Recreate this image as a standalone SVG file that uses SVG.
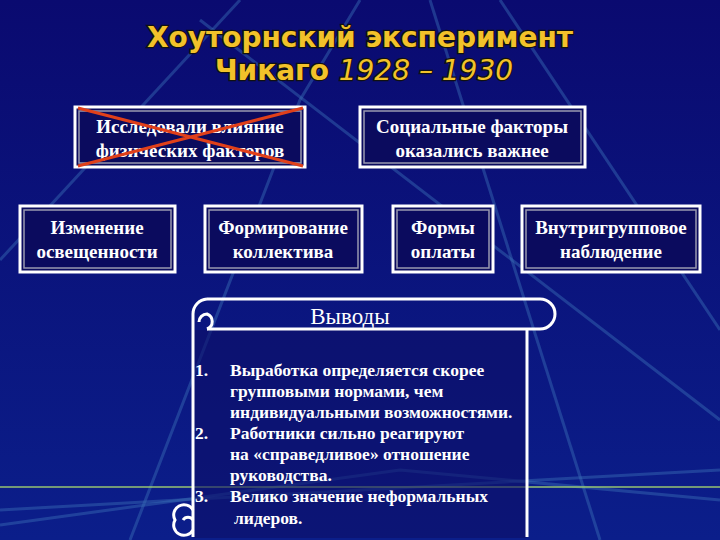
<svg xmlns="http://www.w3.org/2000/svg" width="720" height="540" viewBox="0 0 720 540">
<defs>
<style>
.box{fill:#0b0b5e;stroke:#ffffff;stroke-width:3}
.inner{fill:none;stroke:#9a9ab0;stroke-width:1.5}
.t{font-family:"Liberation Serif",serif;font-weight:bold;font-size:19px;fill:#ffffff;text-anchor:middle}
.l{font-family:"Liberation Serif",serif;font-weight:bold;font-size:17.5px;fill:#ffffff}
.ttl{font-family:"DejaVu Sans",sans-serif;font-weight:bold;font-size:28px;fill:#f2c22a;text-anchor:middle;stroke:#111;stroke-width:2.5;paint-order:stroke}
.bg{stroke:#3a6fb5;stroke-width:3;opacity:0.45;fill:none}
</style>
<linearGradient id="g" x1="0" y1="0" x2="0" y2="1">
<stop offset="0" stop-color="#0a0a70"/><stop offset="1" stop-color="#0b1e8a"/>
</linearGradient>
</defs>
<rect width="720" height="540" fill="url(#g)"/>
<g id="bglines">
<path class="bg" d="M0 260 L240 0"/>
<path class="bg" d="M130 540 L300 100 L360 0"/>
<path class="bg" d="M200 20 L720 420"/>
<path class="bg" d="M500 0 L720 330"/>
<path class="bg" d="M430 0 L600 540"/>
<path class="bg" d="M0 510 L720 470" stroke-width="1.5"/>
<path class="bg" d="M0 525 L400 470 L720 500" stroke-width="1.5"/>
<path d="M0 487 L720 487" stroke="#9fcf70" stroke-width="2" opacity="0.7"/>
</g>
<g id="title">
<text class="ttl" x="360" y="47">Хоуторнский эксперимент</text>
<text class="ttl" x="364" y="80">Чикаго <tspan font-style="italic" font-weight="normal">1928 – 1930</tspan></text>
</g>
<g id="n1">
<rect class="box" x="75" y="107" width="230" height="60"/><rect class="inner" x="79" y="111" width="222" height="52"/>
<text class="t" x="190" y="133">Исследовали влияние</text><text class="t" x="190" y="157">физических факторов</text>
<path d="M78 108 L303 166 M78 166 L303 108" stroke="#e0401a" stroke-width="3"/>
</g>
<g id="n2">
<rect class="box" x="360" y="107" width="225" height="60"/><rect class="inner" x="364" y="111" width="217" height="52"/>
<text class="t" x="472" y="133">Социальные факторы</text><text class="t" x="472" y="157">оказались важнее</text>
</g>
<g id="n3">
<rect class="box" x="20" y="206" width="155" height="66"/><rect class="inner" x="24" y="210" width="147" height="58"/>
<text class="t" x="97" y="234">Изменение</text><text class="t" x="97" y="258">освещенности</text>
</g>
<g id="n4">
<rect class="box" x="205" y="206" width="157" height="66"/><rect class="inner" x="209" y="210" width="149" height="58"/>
<text class="t" x="283" y="234">Формирование</text><text class="t" x="283" y="258">коллектива</text>
</g>
<g id="n5">
<rect class="box" x="393" y="206" width="100" height="66"/><rect class="inner" x="397" y="210" width="92" height="58"/>
<text class="t" x="443" y="234">Формы</text><text class="t" x="443" y="258">оплаты</text>
</g>
<g id="n6">
<rect class="box" x="522" y="206" width="178" height="66"/><rect class="inner" x="526" y="210" width="170" height="58"/>
<text class="t" x="611" y="234">Внутригрупповое</text><text class="t" x="611" y="258">наблюдение</text>
</g>
<g id="connectors"></g>
<g id="scroll" fill="none" stroke="#ffffff" stroke-width="3">
<rect x="194" y="330" width="333" height="208" fill="#0d0f68" stroke="none" opacity="0.6"/>
<path d="M207 299 L540 299 A15 15 0 0 1 540 329 L207 329"/>
<path d="M207 299 A15 15 0 0 0 193 314 L193 537"/>
<path d="M207 329 A8 8 0 0 0 207 314 A8 8 0 0 0 199 322"/>
<path d="M527 329 L527 537"/>
<path d="M193 510 A10 10 0 0 0 175 520 A10 10 0 0 0 193 530"/>
<path d="M193 520 A6 6 0 0 0 183 520"/>
<text x="350" y="324" font-family="Liberation Serif,serif" font-size="23" fill="#fff" stroke="none" text-anchor="middle">Выводы</text>
</g>
<g id="list">
<text class="l" x="195" y="376">1.</text>
<text class="l" x="230" y="376">Выработка определяется скорее</text>
<text class="l" x="230" y="397">групповыми нормами,  чем</text>
<text class="l" x="230" y="418">индивидуальными возможностями.</text>
<text class="l" x="195" y="439">2.</text>
<text class="l" x="230" y="439">Работники сильно реагируют</text>
<text class="l" x="230" y="460">на «справедливое» отношение</text>
<text class="l" x="230" y="481">руководства.</text>
<text class="l" x="195" y="502">3.</text>
<text class="l" x="230" y="502">Велико значение неформальных</text>
<text class="l" x="234" y="524">лидеров.</text>
</g>
</svg>
